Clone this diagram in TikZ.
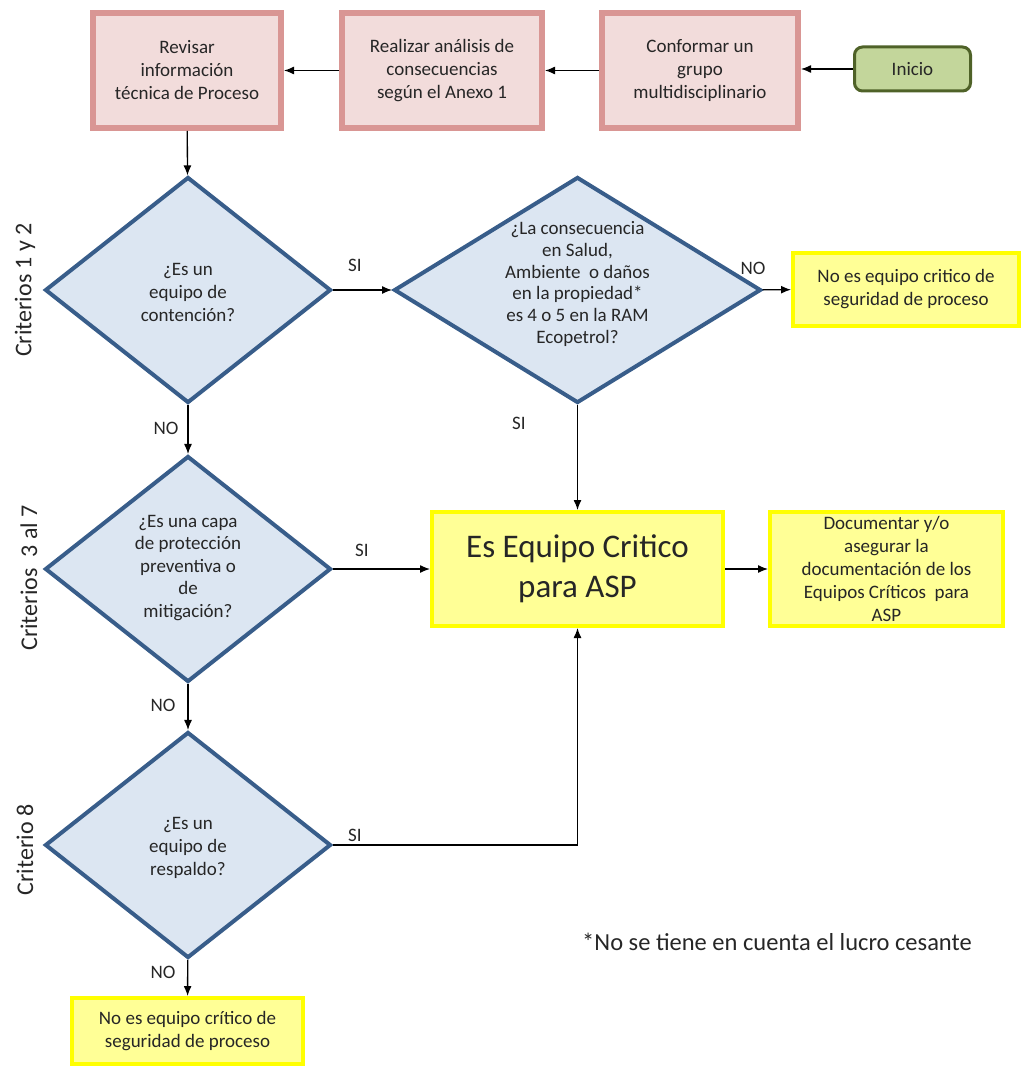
\documentclass[tikz,border=0pt]{standalone}
\usepackage{fontspec}
\setmainfont{Carlito}
\usetikzlibrary{shapes.geometric,arrows.meta}
\definecolor{pinkline}{RGB}{217,150,148}
\definecolor{pinkfill}{RGB}{242,220,219}
\definecolor{greenfill}{RGB}{195,214,155}
\definecolor{greenline}{RGB}{79,98,40}
\definecolor{bluefill}{RGB}{220,230,242}
\definecolor{blueline}{RGB}{56,93,138}
\definecolor{yelfill}{RGB}{255,255,150}
\definecolor{yelline}{RGB}{255,255,0}
\definecolor{ink}{RGB}{38,38,38}
\begin{document}
\begin{tikzpicture}[x=1pt,y=-1pt,
  txt/.style={font=\fontsize{19}{23}\selectfont, text=ink, align=center},
  pinkbox/.style={txt, draw=pinkline, fill=pinkfill, line width=6pt, inner sep=0pt},
  startbox/.style={txt, draw=greenline, fill=greenfill, line width=3pt, rounded corners=8pt, inner sep=0pt},
  decision/.style={diamond, draw=blueline, fill=bluefill, line width=4pt, inner sep=0pt},
  yelbox/.style={txt, draw=yelline, fill=yelfill, line width=4pt, inner sep=0pt},
  lbl/.style={font=\fontsize{19}{23}\selectfont, text=ink},
  side/.style={font=\fontsize{24}{28}\selectfont, text=ink, rotate=90},
  flow/.style={-{Latex[length=10pt,width=8pt]}, line width=1.3pt, black}
]
\useasboundingbox (0,0) rectangle (1023,1067);

% top row of process steps
\node[pinkbox, minimum width=188pt, minimum height=115pt] (rev) at (187,70.5) {Revisar\\información\\técnica de Proceso};
\node[pinkbox, minimum width=200pt, minimum height=115pt] (rea) at (442,70.5) {Realizar análisis de\\consecuencias\\según el Anexo 1};
\node[pinkbox, minimum width=196pt, minimum height=115pt] (con) at (700,70.5) {Conformar un\\grupo\\multidisciplinario};
\node[startbox, minimum width=116pt, minimum height=44pt] (ini) at (912.5,69) {Inicio};

% decisions
\node[decision, minimum width=286pt, minimum height=226pt] (d1) at (188,290) {};
\node[txt] (t1) at (188,292) {¿Es un\\equipo de\\contención?};
\node[decision, minimum width=367pt, minimum height=226pt] (d2) at (577.5,290) {};
\node[txt, font=\fontsize{19}{21.8}\selectfont] (t2) at (577.5,284) {¿La consecuencia\\en Salud,\\Ambiente\ \ o daños\\en la propiedad*\\es 4 o 5 en la RAM\\Ecopetrol?};
\node[decision, minimum width=286pt, minimum height=226pt] (d3) at (188,569) {};
\node[txt, font=\fontsize{19}{22.5}\selectfont] (t3) at (188,568) {¿Es una capa\\de protección\\preventiva o\\de\\mitigación?};
\node[decision, minimum width=286pt, minimum height=226pt] (d4) at (188,845) {};
\node[txt] (t4) at (188,848) {¿Es un\\equipo de\\respaldo?};

% outcomes
\node[yelbox, minimum width=226pt, minimum height=73pt] (no1) at (906,289.5) {No es equipo critico de\\seguridad de proceso};
\node[yelbox, minimum width=291pt, minimum height=114pt, font=\fontsize{33}{40}\selectfont] (eq) at (577.5,569) {Es Equipo Critico\\para ASP};
\node[yelbox, minimum width=233pt, minimum height=114pt] (doc) at (886.5,569) {Documentar y/o\\asegurar la\\documentación de los\\Equipos Críticos\ \ para\\ASP};
\node[yelbox, minimum width=231pt, minimum height=66pt] (no2) at (187.5,1031) {No es equipo crítico de\\seguridad de proceso};

% criteria labels
\node[side] (c1) at (25,290) {Criterios 1 y 2};
\node[side] (c2) at (29,578) {Criterios\ \ 3 al 7};
\node[side] (c3) at (25,850) {Criterio 8};

% footnote
\node[lbl, font=\fontsize{24.5}{28}\selectfont] (fn) at (777,942) {*No se tiene en cuenta el lucro cesante};

% connectors
\draw[flow] (ini.west) -- (ini.west -| con.east);
\draw[flow] (con) -- (rea);
\draw[flow] (rea) -- (rev);
\draw[flow] (rev) -- (d1);
\draw[flow] (d1) -- (d2);
\draw[flow] (d2) -- (no1);
\draw[flow] (d2) -- (eq);
\draw[flow] (d1) -- (d3);
\draw[flow] (d3) -- (eq);
\draw[flow] (eq) -- (doc);
\draw[flow] (d3) -- (d4);
\draw[flow] (d4.east) -| (eq.south);
\draw[flow] (d4) -- (no2);

% connector labels
\node[lbl] (s1) at (355,265) {SI};
\node[lbl] (n1) at (166,428) {NO};
\node[lbl] (n2) at (753,268) {NO};
\node[lbl] (s2) at (519,423) {SI};
\node[lbl] (s3) at (362,550) {SI};
\node[lbl] (n3) at (163,705) {NO};
\node[lbl] (s4) at (355,835) {SI};
\node[lbl] (n4) at (163,972) {NO};
\end{tikzpicture}
\end{document}
